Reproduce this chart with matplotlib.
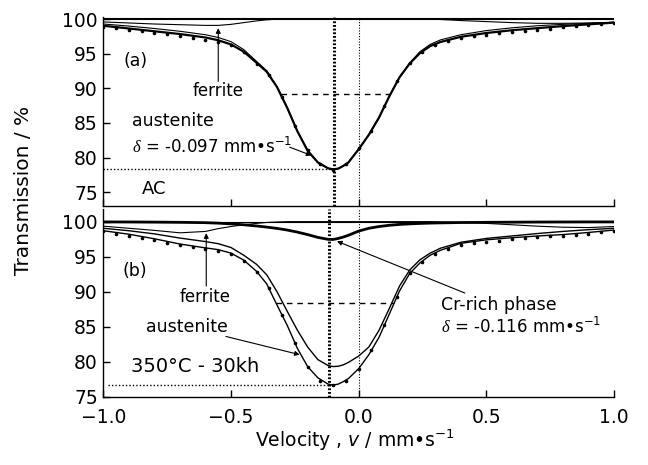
import numpy as np
import matplotlib
matplotlib.use("Agg")
import matplotlib.pyplot as plt

plt.rcParams["font.family"] = ["DejaVu Sans"]
plt.rcParams["mathtext.fontset"] = "custom"
plt.rcParams["mathtext.rm"] = "DejaVu Sans"
plt.rcParams["mathtext.it"] = "DejaVu Sans:italic"
plt.rcParams["mathtext.sf"] = "Liberation Serif:italic"   # used for the delta only

# velocity grid of the fitted sub-spectra (mm/s)
vel = [-1.0, -0.9, -0.8, -0.7, -0.6, -0.55, -0.5, -0.45, -0.4, -0.36, -0.32, -0.28,
       -0.24, -0.2, -0.16, -0.12, -0.1, -0.08, -0.06, -0.04, 0.0, 0.04, 0.08, 0.12,
       0.16, 0.2, 0.24, 0.28, 0.32, 0.4, 0.5, 0.6, 0.7, 0.8, 0.9, 1.0]

# (a) as cast
ac_total = [99.05, 98.65, 98.25, 97.85, 97.35, 96.95, 96.35, 95.3, 93.7, 92.4, 90.2, 87.2,
            83.8, 81.0, 79.3, 78.45, 78.3, 78.4, 78.8, 79.3, 81.2, 83.3, 85.8, 88.85,
            91.6, 93.6, 95.1, 96.1, 96.7, 97.45, 98.0, 98.4, 98.7, 99.0, 99.25, 99.5]
ac_austenite = [99.3, 99.0, 98.65, 98.25, 97.75, 97.35, 96.75, 95.6, 93.9, 92.55, 90.25, 87.2,
                83.8, 81.0, 79.3, 78.45, 78.3, 78.4, 78.8, 79.3, 81.2, 83.3, 85.8, 88.85,
                91.6, 93.65, 95.3, 96.35, 97.0, 97.75, 98.35, 98.75, 99.05, 99.25, 99.4, 99.55]
ac_ferrite = [99.6, 99.45, 99.3, 99.2, 99.1, 99.1, 99.25, 99.5, 99.75, 99.9, 100, 100,
              100, 100, 100, 100, 100, 100, 100, 100, 100, 100, 100, 100,
              100, 100, 100, 100, 99.95, 99.8, 99.65, 99.5, 99.4, 99.4, 99.45, 99.55]

# (b) aged 350C - 30kh
aged_total = [98.7, 98.2, 97.55, 96.8, 96.25, 96.0, 95.5, 94.5, 92.9, 91.1, 88.1, 85.2,
              81.9, 79.3, 77.7, 76.8, 76.65, 76.8, 77.15, 77.6, 79.0, 81.0, 83.5, 86.8,
              90.1, 92.6, 94.1, 95.2, 95.9, 96.9, 97.4, 97.7, 97.95, 98.15, 98.45, 98.8]
aged_austenite = [99.05, 98.7, 98.25, 97.65, 97.15, 96.85, 96.3, 95.2, 93.9, 92.4, 90.0, 87.2,
                  84.5, 82.1, 80.3, 79.45, 79.3, 79.35, 79.55, 79.9, 80.8, 82.1, 84.5, 87.6,
                  90.8, 93.1, 94.55, 95.5, 96.2, 97.05, 97.6, 97.95, 98.3, 98.6, 98.85, 99.05]
aged_ferrite = [99.35, 99.05, 98.75, 98.4, 98.6, 99.0, 99.3, 99.55, 99.75, 99.88, 99.95, 100,
                100, 100, 100, 100, 100, 100, 100, 100, 100, 100, 100, 100,
                100, 100, 100, 100, 99.97, 99.9, 99.75, 99.55, 99.35, 99.2, 99.15, 99.3]
aged_cr = [99.96, 99.95, 99.93, 99.9, 99.85, 99.78, 99.68, 99.55, 99.38, 99.22, 99.03, 98.8,
           98.5, 98.15, 97.75, 97.47, 97.45, 97.6, 97.8, 98.05, 98.65, 99.05, 99.3, 99.48,
           99.6, 99.68, 99.74, 99.79, 99.82, 99.87, 99.9, 99.92, 99.94, 99.95, 99.96, 99.96]

# measured points
vel_pts = [-1.0, -0.95, -0.9, -0.85, -0.8, -0.75, -0.7, -0.65, -0.6, -0.55, -0.5, -0.45, -0.4,
           -0.35, -0.3, -0.25, -0.2, -0.15, -0.1, -0.05, 0.0, 0.05, 0.1, 0.15, 0.2, 0.25, 0.3,
           0.35, 0.4, 0.45, 0.5, 0.55, 0.6, 0.65, 0.7, 0.75, 0.8, 0.85, 0.9, 0.95, 1.0]
ac_pts = [98.9, 98.7, 98.5, 98.3, 98.05, 97.8, 97.6, 97.3, 97.05, 96.7, 96.2, 95.2, 93.5,
          91.9, 88.8, 84.6, 81.1, 79.0, 78.2, 79.0, 81.4, 83.9, 87.4, 91.0, 93.7, 95.3, 96.2,
          96.9, 97.25, 97.55, 97.75, 98.0, 98.15, 98.35, 98.5, 98.65, 98.8, 98.95, 99.1, 99.25, 99.4]
aged_pts = [98.6, 98.3, 98.0, 97.7, 97.35, 97.0, 96.6, 96.35, 96.1, 95.85, 95.35, 94.4, 92.8,
            90.5, 86.7, 82.7, 79.2, 77.3, 76.6, 77.3, 78.9, 81.6, 85.2, 89.3, 92.6, 94.3, 95.4,
            96.1, 96.6, 96.9, 97.15, 97.3, 97.45, 97.6, 97.75, 97.9, 98.0, 98.15, 98.3, 98.5, 98.7]

DELTA_AC = -0.097
DELTA_CR = -0.116


def half_width_line(ax, v, t):
    # min line + dashed line at half depth between the two flanks
    v = np.asarray(v)
    t = np.asarray(t)
    i = int(np.argmin(t))
    tmin = t[i]
    half = (100 + tmin) / 2
    left = np.interp(half, t[:i + 1][::-1], v[:i + 1][::-1])
    right = np.interp(half, t[i:], v[i:])
    ax.plot([left, right], [half, half], color="k", lw=1.0, ls=(0, (4, 3.5)))
    return tmin


def style(ax):
    ax.set_xlim(-1, 1)
    ax.set_xticks([-1.0, -0.5, 0.0, 0.5, 1.0])
    ax.set_yticks([75, 80, 85, 90, 95, 100])
    ax.spines["top"].set_visible(False)
    ax.spines["right"].set_visible(False)
    for s in ("left", "bottom"):
        ax.spines[s].set_linewidth(1.0)
    ax.tick_params(direction="in", length=5, width=1.0, labelsize=13.5, pad=4)
    ax.tick_params(axis="x", pad=8)


fig = plt.figure(figsize=(6.48, 4.65), dpi=100)
axA = fig.add_axes([0.1595, 0.557, 0.788, 0.407])
axB = fig.add_axes([0.1595, 0.1469, 0.788, 0.4036])

arrow = dict(arrowstyle="-|>", color="k", lw=0.8, shrinkA=0, shrinkB=0, mutation_scale=7)

# ---- (a) AC
style(axA)
axA.set_ylim(73.0, 100.35)
axA.tick_params(labelbottom=False)
axA.axhline(100, color="k", lw=1.5)
axA.plot(vel, ac_ferrite, color="k", lw=0.8)
axA.plot(vel, ac_austenite, color="k", lw=0.8)
axA.plot(vel, ac_total, color="k", lw=1.6)
axA.plot(vel_pts, ac_pts, "o", color="k", ms=1.6)
axA.axvline(DELTA_AC, color="k", lw=2.2, ls=(0, (0.6, 0.6)))
axA.axvline(0, color="k", lw=0.8, ls=(0, (1, 1.5)))
tmin = half_width_line(axA, vel, ac_total)
axA.plot([-1, DELTA_AC], [tmin, tmin], color="k", lw=1.0, ls=(0, (1, 1.5)))

axA.text(-0.92, 94.0, "(a)", fontsize=12.5, va="center")
axA.text(-0.55, 89.6, "ferrite", fontsize=12, ha="center", va="center")
axA.annotate("", xy=(-0.55, 98.7), xytext=(-0.55, 91.0), arrowprops=arrow)
axA.text(-0.888, 85.3, "austenite", fontsize=12.5, va="center")
axA.text(-0.888, 81.6, r"$\mathsf{\delta}$ = -0.097 mm•s$^{\mathregular{-1}}$",
         fontsize=12, va="center")
axA.annotate("", xy=(-0.185, 80.3), xytext=(-0.27, 81.5), arrowprops=arrow)
axA.text(-0.85, 75.5, "AC", fontsize=13, va="center")

# ---- (b) 350C - 30kh
style(axB)
axB.set_ylim(75.0, 101.8)
axB.axhline(100, color="k", lw=0.8)
axB.plot(vel, aged_ferrite, color="k", lw=0.8)
axB.plot(vel, aged_cr, color="k", lw=2.0)
axB.plot(vel, aged_austenite, color="k", lw=1.0)
axB.plot(vel, aged_total, color="k", lw=1.0)
axB.plot(vel_pts, aged_pts, "o", color="k", ms=1.6)
axB.axvline(DELTA_CR, color="k", lw=2.2, ls=(0, (0.6, 0.6)))
axB.axvline(0, color="k", lw=0.8, ls=(0, (1, 1.5)))
tmin = half_width_line(axB, vel, aged_total)
axB.plot([-0.98, DELTA_CR], [tmin, tmin], color="k", lw=1.0, ls=(0, (1, 1.5)))

axB.text(-0.925, 92.9, "(b)", fontsize=12.5, va="center")
axB.text(-0.6, 89.2, "ferrite", fontsize=12, ha="center", va="center")
axB.annotate("", xy=(-0.597, 98.35), xytext=(-0.597, 90.8), arrowprops=arrow)
axB.text(-0.833, 85.0, "austenite", fontsize=12.5, va="center")
axB.annotate("", xy=(-0.231, 81.0), xytext=(-0.52, 83.6), arrowprops=arrow)
axB.text(-0.892, 79.3, "350°C - 30kh", fontsize=14, va="center")
axB.text(0.324, 88.1, "Cr-rich phase", fontsize=12.5, va="center")
axB.text(0.324, 85.0, r"$\mathsf{\delta}$ = -0.116 mm•s$^{\mathregular{-1}}$",
         fontsize=12, va="center")
axB.annotate("", xy=(-0.085, 97.2), xytext=(0.416, 89.8), arrowprops=arrow)

fig.text(0.036, 0.59, "Transmission / %", rotation=90, ha="center", va="center", fontsize=14.5)
fig.text(0.548, 0.054, r"Velocity , $v$ / mm•s$^{\mathregular{-1}}$", ha="center", va="center",
         fontsize=13.5)

fig.savefig("out.png", dpi=100)
